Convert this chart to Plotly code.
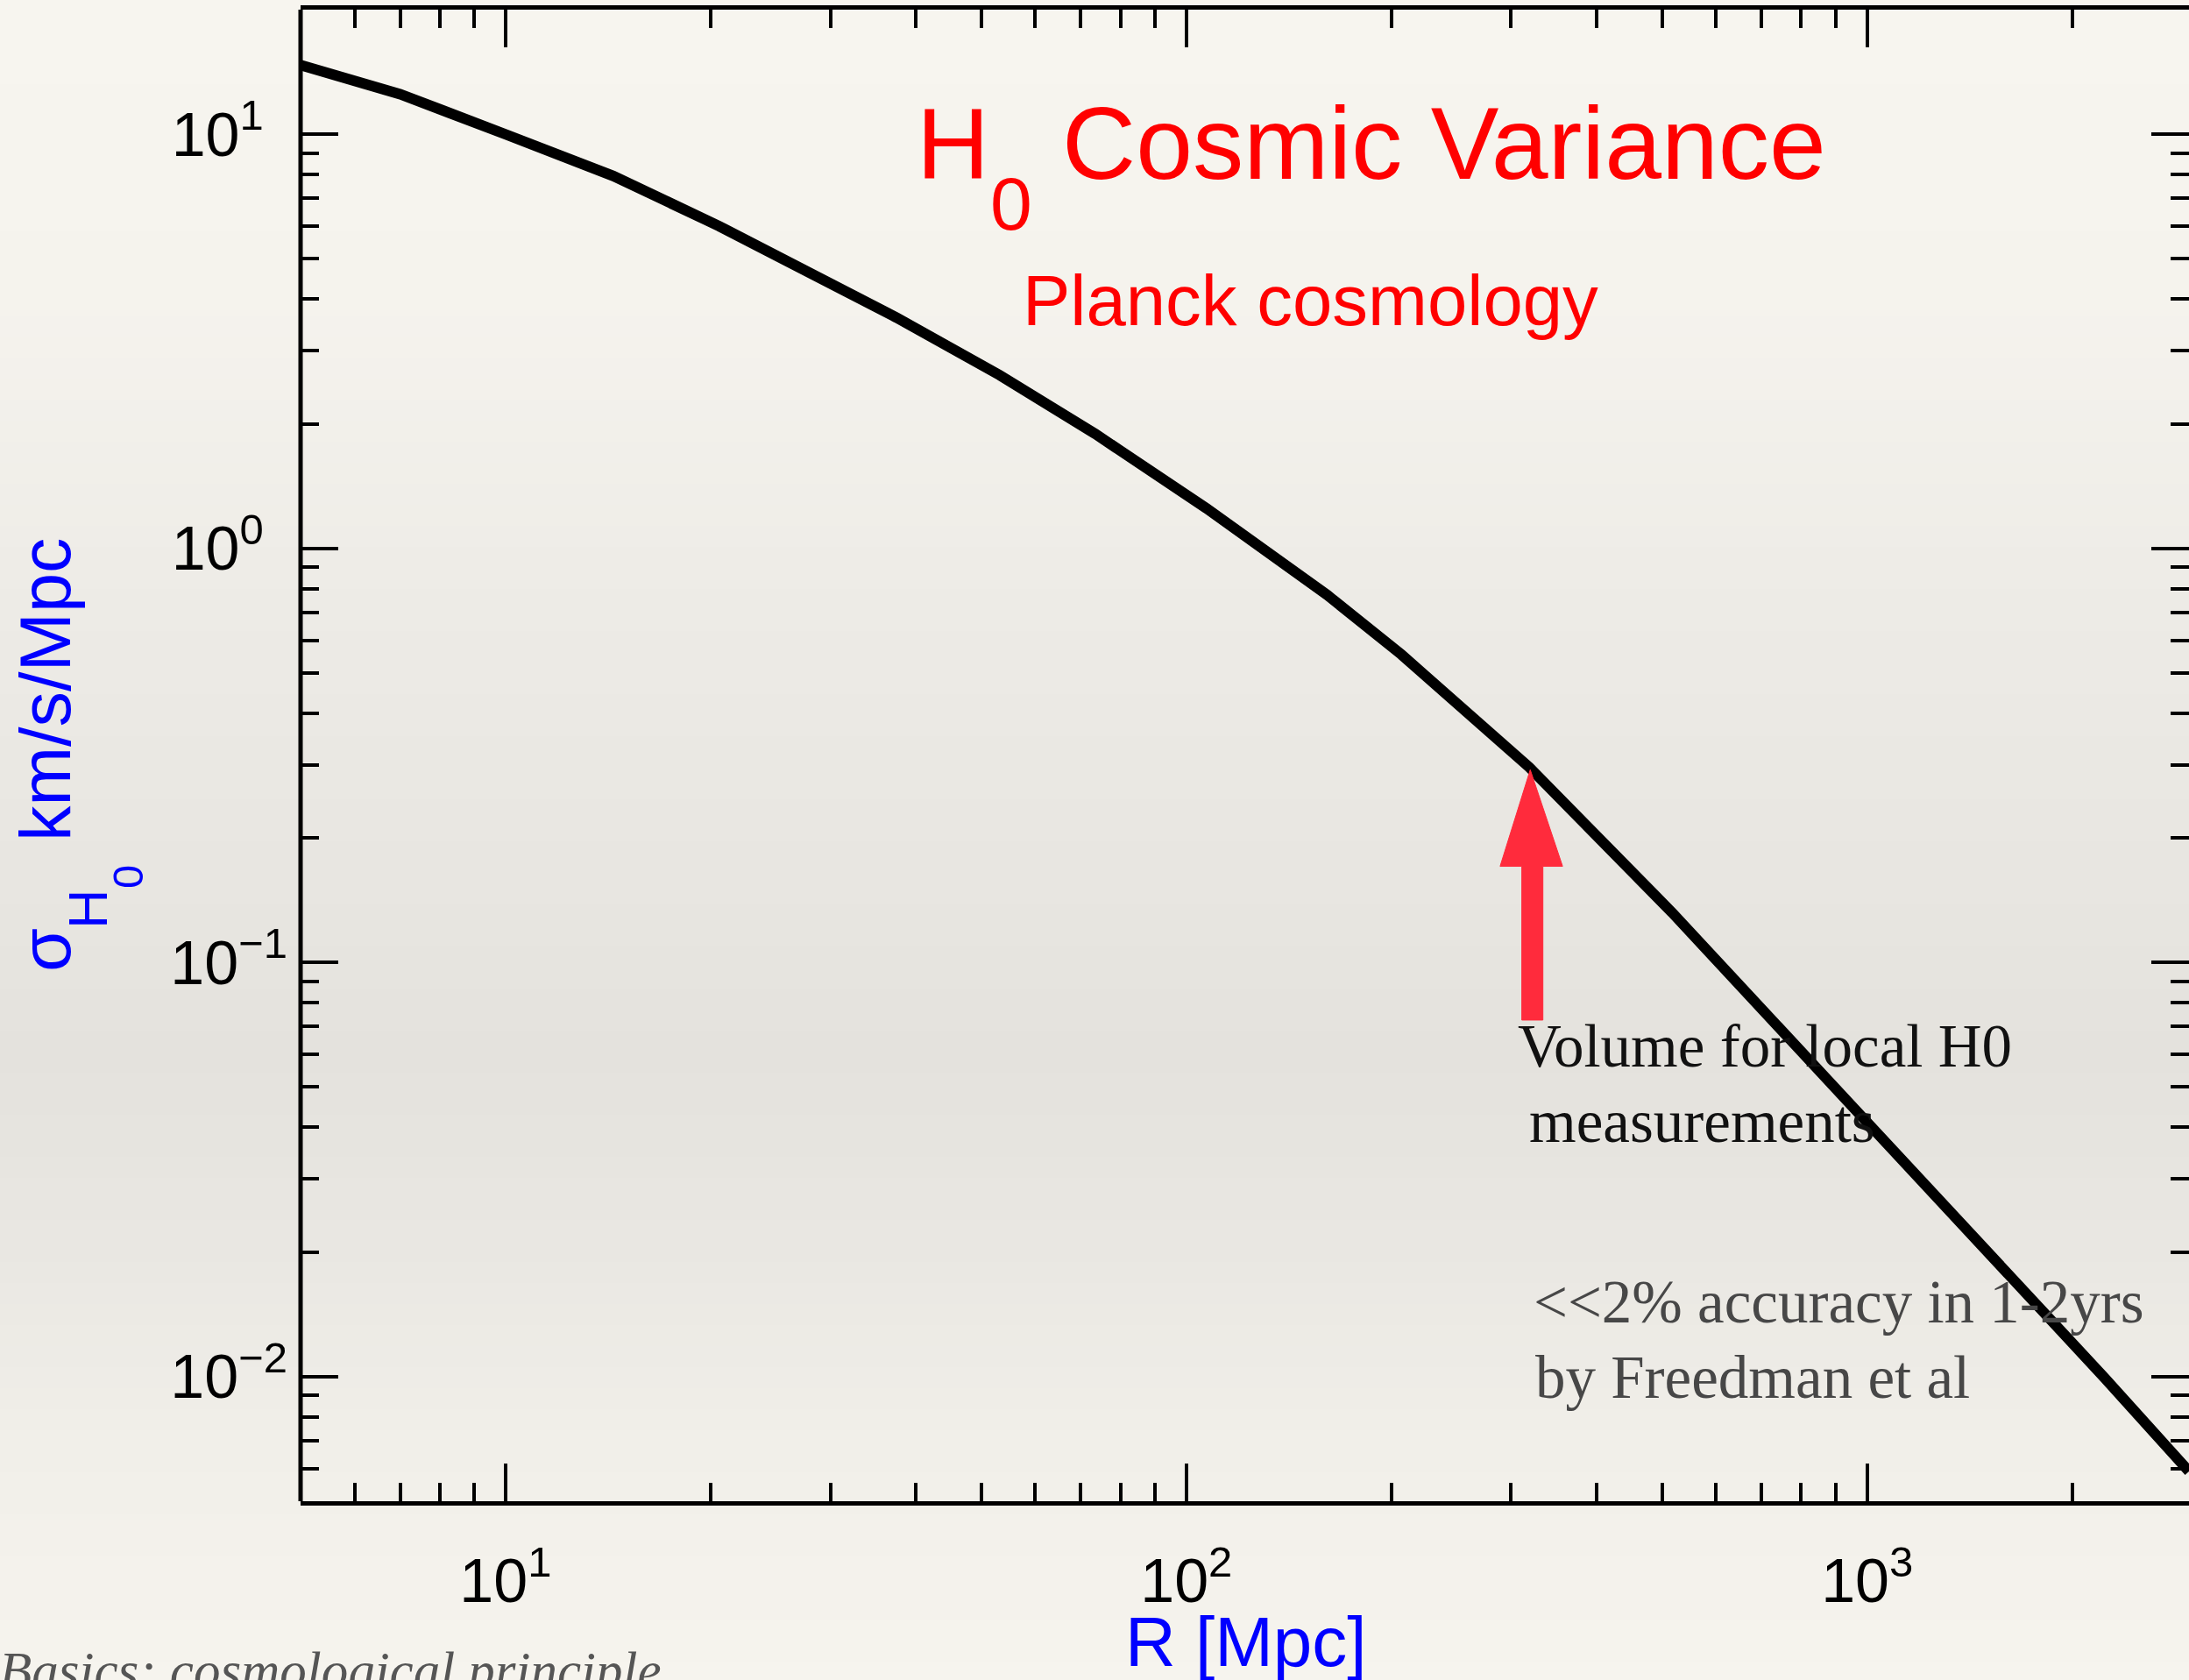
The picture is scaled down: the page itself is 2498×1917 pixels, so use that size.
import numpy as np
import plotly.graph_objects as go

# sigma(H0) cosmic variance as a function of survey radius R (Planck cosmology)
radius_mpc = [5.0, 7.0, 10.0, 14.4, 20.6, 27.2, 37.5, 53.2, 73.5, 107, 131, 161,
              207, 247, 319, 517, 1000, 1480, 2230, 2970]
sigma_h0 = [14.7, 12.5, 10.0, 7.93, 6.00, 4.77, 3.61, 2.62, 1.89, 1.25, 0.99, 0.772,
            0.554, 0.432, 0.296, 0.132, 0.0412, 0.0206, 0.00995, 0.0059]

# red pointer marking the volume probed by local H0 measurements (R, sigma outline)
arrow_r = [311, 334, 334, 357, 320, 289, 311, 311]
arrow_sigma = [0.0726, 0.0726, 0.1707, 0.1707, 0.292, 0.1707, 0.1707, 0.0726]

NB = "\u00a0"
x_tick_vals = [10, 100, 1000]
x_tick_text = ["10<sup>1</sup>", "10<sup>2</sup>", "10<sup>3</sup>"]
y_tick_vals = [0.01, 0.1, 1, 10]
y_tick_text = ["10<sup>\u22122</sup>", "10<sup>\u22121</sup>",
               "10<sup>0" + NB * 2 + "</sup>", "10<sup>1" + NB * 2 + "</sup>"]

X_MIN, X_MAX = 5.0, 2970.0
Y_MIN, Y_MAX = 0.005, 20.0

x_minor = [m * 10.0 ** e for e in range(0, 4) for m in range(2, 10)
           if X_MIN < m * 10.0 ** e < X_MAX and m * 10.0 ** e not in x_tick_vals]
y_minor = [round(m * 10.0 ** e, 6) for e in range(-3, 2) for m in range(2, 10)
           if Y_MIN < m * 10.0 ** e < Y_MAX]

# page geometry (pixels)
W, H = 2498, 1917
ML, MR, MT, MB = 343, 0, 11, 204
PW, PH = W - ML - MR, H - MT - MB


def fx(px):
    return (px - ML) / PW


def fy(py):
    return (H - MB - py) / PH


SANS = "Liberation Sans"
SERIF = "Liberation Serif"
RED = "#ff0000"
BLUE = "#0000ff"

fig = go.Figure()

fig.add_trace(go.Scatter(
    x=radius_mpc, y=sigma_h0, mode="lines",
    line=dict(color="black", width=12),
    showlegend=False, hoverinfo="skip",
))

fig.add_trace(go.Scatter(
    x=arrow_r, y=arrow_sigma, mode="lines", fill="toself",
    fillcolor="#ff2b3c", line=dict(color="#ff2b3c", width=1),
    showlegend=False, hoverinfo="skip",
))

# soft paper-like vertical shading behind the plot
stops = [(0, (247, 245, 239)), (350, (245, 243, 237)), (700, (237, 235, 230)),
         (1000, (232, 230, 225)), (1200, (228, 226, 221)), (1420, (233, 231, 226)),
         (1650, (241, 239, 233)), (1917, (246, 244, 238))]
band = 24
shapes = []
for top in range(0, H, band):
    mid = top + band / 2
    for (p0, c0), (p1, c1) in zip(stops[:-1], stops[1:]):
        if p0 <= mid <= p1:
            t = (mid - p0) / (p1 - p0)
            col = tuple(int(round(a + (b - a) * t)) for a, b in zip(c0, c1))
            break
    shapes.append(dict(
        type="rect", xref="paper", yref="paper", layer="below",
        x0=fx(-5), x1=fx(W + 5), y0=fy(top + band + 1), y1=fy(top),
        fillcolor="rgb(%d,%d,%d)" % col, line=dict(width=0),
    ))

# left frame line (right side of the frame runs off the page)
shapes.append(dict(type="line", xref="paper", yref="paper", x0=0, x1=0, y0=0, y1=1,
                   line=dict(color="black", width=5)))


def ann(text, px, py, size, color, family=SANS, xanchor="center", angle=0):
    return dict(text=text, x=fx(px), y=fy(py), xref="paper", yref="paper",
                xanchor=xanchor, yanchor="middle", showarrow=False, textangle=angle,
                font=dict(family=family, size=size, color=color))


annotations = [
    # title
    ann("H", 1087, 164, 115, RED),
    ann("0", 1154, 232, 86, RED),
    ann("Cosmic Variance", 1210, 164, 116.5, RED, xanchor="left"),
    ann("Planck cosmology", 1165, 342, 81.5, RED, xanchor="left"),
    # axis titles
    ann("\u03c3", 52, 1084, 81, BLUE, angle=-90),
    ann("H", 100, 1037, 63, BLUE, angle=-90),
    ann("0", 146, 1001, 49, BLUE, angle=-90),
    ann("km/s/Mpc", 52, 786, 81, BLUE, angle=-90),
    ann("R [Mpc]", 1422, 1874, 80, BLUE),
    # notes
    ann("Volume for local H0", 1730, 1194, 69, "#111111", SERIF, "left"),
    ann("measurements", 1743, 1280, 69, "#111111", SERIF, "left"),
    ann("&lt;&lt;2% accuracy in 1-2yrs", 1748, 1486, 69, "#474747", SERIF, "left"),
    ann("by Freedman et al", 1750, 1572, 69, "#474747", SERIF, "left"),
    ann("<i>Basics: cosmological principle</i>", -3, 1906, 61, "#555555", SERIF, "left"),
]

axis_common = dict(
    type="log", showgrid=False, zeroline=False,
    ticks="inside", ticklen=43, tickwidth=3.5, tickcolor="black",
    tickfont=dict(family=SANS, size=70, color="black"),
    mirror="ticks", tickmode="array",
)

fig.update_layout(
    width=W, height=H,
    margin=dict(l=ML, r=MR, t=MT, b=MB, pad=0),
    paper_bgcolor="rgb(246,244,238)",
    plot_bgcolor="rgba(0,0,0,0)",
    shapes=shapes,
    annotations=annotations,
    xaxis=dict(
        **axis_common,
        range=[np.log10(X_MIN), np.log10(X_MAX)],
        tickvals=x_tick_vals, ticktext=x_tick_text,
        showline=True, linewidth=5, linecolor="black",
        ticklabelstandoff=26,
        minor=dict(tickmode="array", tickvals=x_minor, ticks="inside",
                   ticklen=21, tickwidth=3.5, tickcolor="black", showgrid=False),
    ),
    yaxis=dict(
        **axis_common,
        range=[np.log10(Y_MIN), np.log10(Y_MAX)],
        tickvals=y_tick_vals, ticktext=y_tick_text,
        showline=False,
        ticklabelstandoff=14,
        minor=dict(tickmode="array", tickvals=y_minor, ticks="inside",
                   ticklen=21, tickwidth=3.5, tickcolor="black", showgrid=False),
    ),
)

fig.write_html("out.html")
